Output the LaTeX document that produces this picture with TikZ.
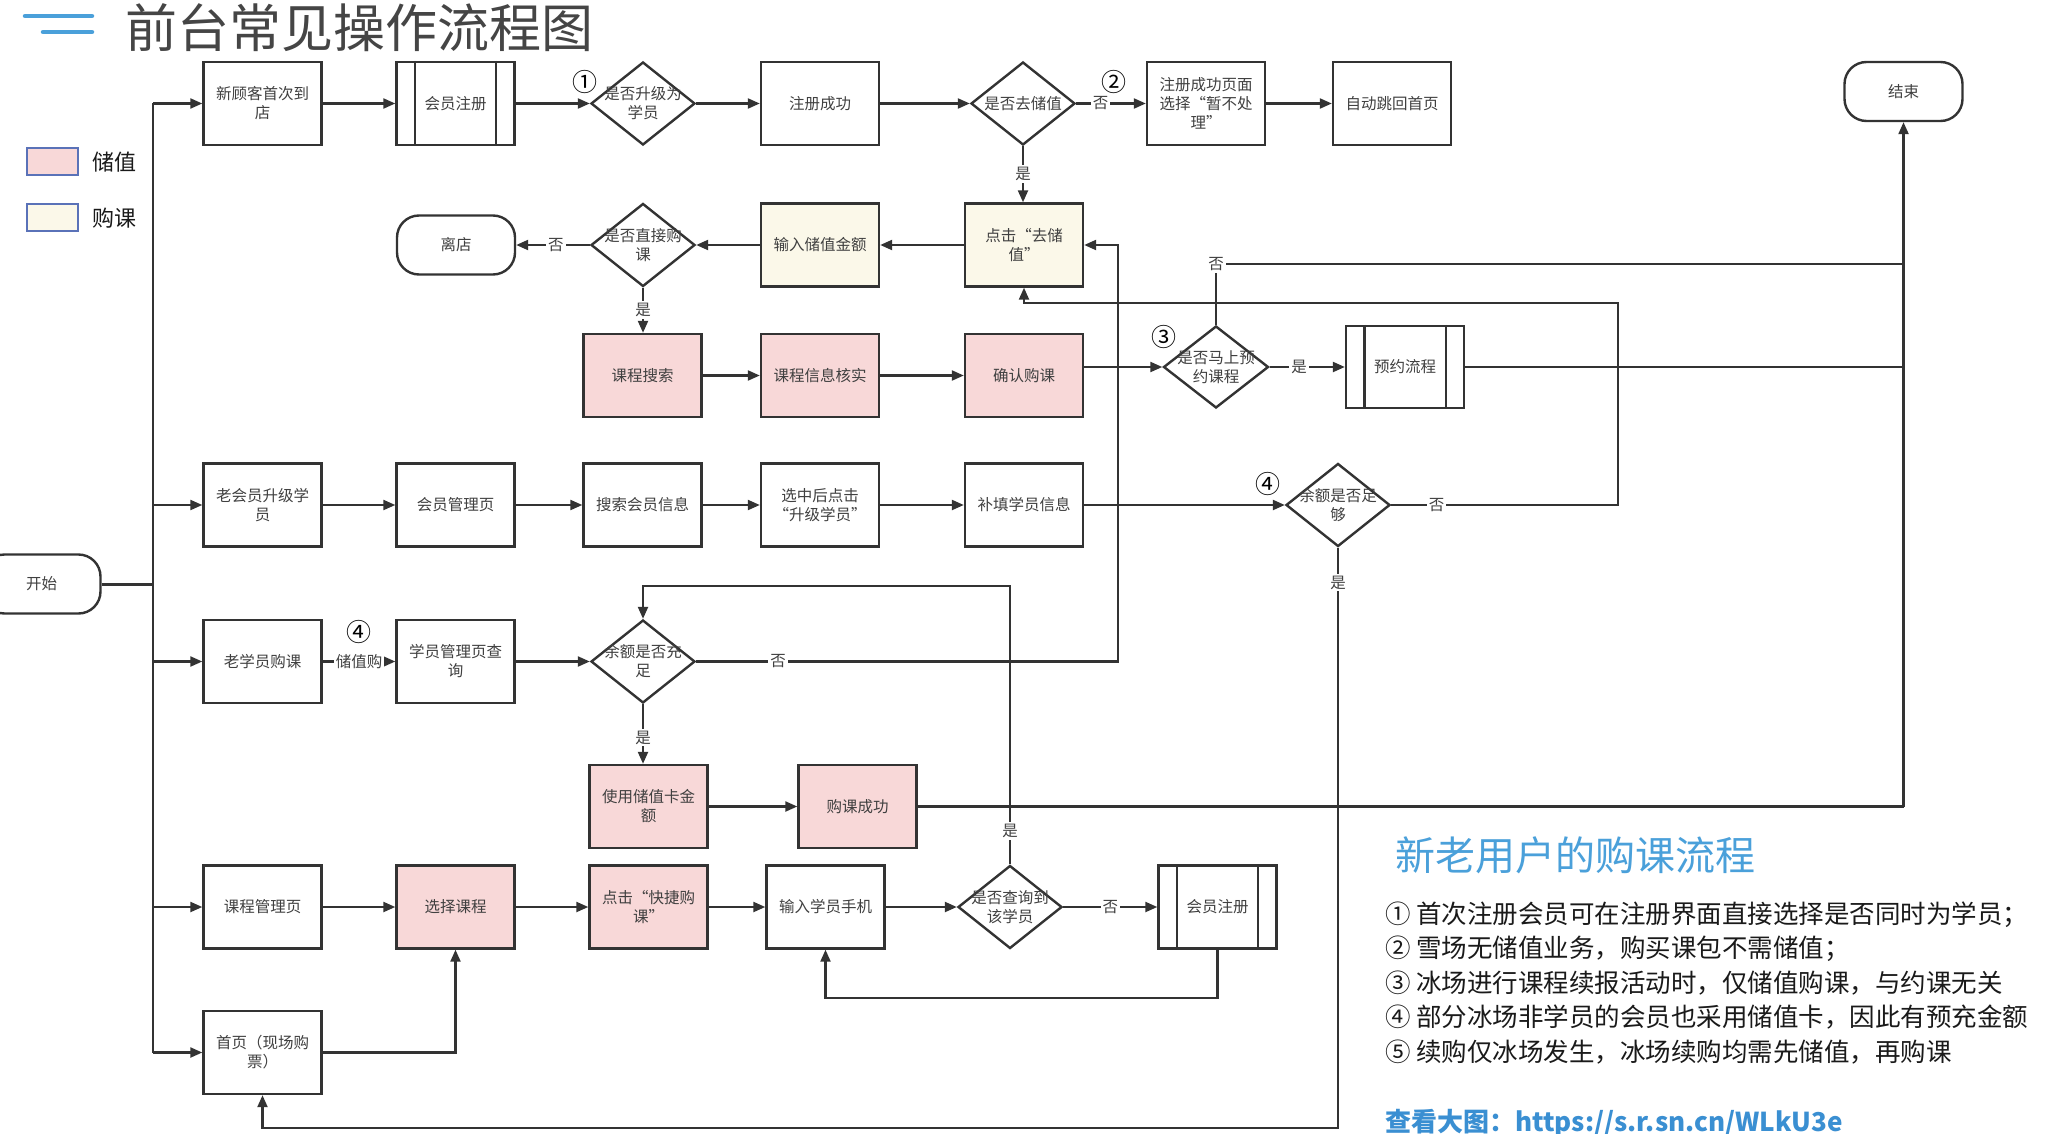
\documentclass[tikz,border=0pt]{standalone}
\usepackage{fontspec}
\setmainfont{Noto Sans CJK SC}
\usetikzlibrary{arrows.meta,shapes.geometric,calc}
\definecolor{pinkf}{HTML}{F8D8D8}
\definecolor{beigef}{HTML}{FBF8E9}
\definecolor{lnc}{HTML}{333333}
\definecolor{txc}{HTML}{404040}
\definecolor{legb}{HTML}{5A72B8}
\definecolor{ttl}{HTML}{454545}
\definecolor{hblue}{HTML}{4AA0DA}
\definecolor{lblue}{HTML}{3A8FD2}
\definecolor{ntx}{HTML}{1A1A1A}
\begin{document}
\begin{tikzpicture}[x=1pt,y=-1pt,
  every node/.style={inner sep=0pt},
  bx/.style={draw=lnc, line width=2.4pt, fill=white, minimum width=118pt, minimum height=83pt, align=center, text=txc, font=\fontsize{15.5}{19}\selectfont},
  pk/.style={bx, fill=pinkf},
  bg/.style={bx, fill=beigef},
  term/.style={bx, rounded corners=22pt, minimum height=59pt},
  dia/.style={draw=lnc, line width=2.4pt, fill=white, shape=diamond, minimum width=104pt, minimum height=83pt},
  dtx/.style={align=center, text=txc, font=\fontsize{15.5}{19}\selectfont},
  conn/.style={draw=lnc, line width=2.2pt},
  arr/.style={conn, -{Triangle[length=12pt,width=10pt]}},
  lbl/.style={fill=white, inner sep=2pt, text=txc, font=\fontsize{15.5}{15.5}\selectfont},
  circ/.style={text=black, font=\fontsize{25}{25}\selectfont},
  legbox/.style={draw=legb, line width=2.5pt, minimum width=51pt, minimum height=27pt},
  legtxt/.style={text=ntx, font=\fontsize{22}{22}\selectfont},
  note/.style={anchor=west, text=ntx, font=\fontsize{25.5}{30}\selectfont},
]
\useasboundingbox (0,0) rectangle (2063,1134);
\clip (0,0) rectangle (2063,1134);
\fill[white] (0,0) rectangle (2063,1134);

% title
\draw[hblue, line width=4.5pt, line cap=round] (25,16) -- (92,16) (43,32) -- (92,32);
\node[anchor=west, text=ttl, font=\fontsize{52}{52}\selectfont] (title) at (125,28) {前台常见操作流程图};

% legend
\node[legbox, fill=pinkf] (lg1) at (52.5,161.5) {};
\node[legtxt] (lgt1) at (114,162) {储值};
\node[legbox, fill=beigef] (lg2) at (52.5,217.5) {};
\node[legtxt] (lgt2) at (114,218) {购课};

% row 1
\node[bx] (n1) at (262.5,103.5) {新顾客首次到\\店};
\node[bx] (reg1) at (455.5,103.5) {会员注册};
\node[dia, label={[dtx]center:{是否升级为\\学员}}] (d1) at (643,103.5) {};
\node[bx] (ok) at (820,103.5) {注册成功};
\node[dia, label={[dtx]center:{是否去储值}}] (d2) at (1023,103.5) {};
\node[bx] (sk) at (1206,103.5) {注册成功页面\\选择“暂不处\\理”};
\node[bx] (home) at (1392,103.5) {自动跳回首页};
\node[term] (endn) at (1903.5,91.5) {结束};

% row 2
\node[term] (leave) at (456,245) {离店};
\node[dia, label={[dtx]center:{是否直接购\\课}}] (d3) at (643,245) {};
\node[bg] (amt) at (820,245) {输入储值金额};
\node[bg] (gostore) at (1024,245) {点击“去储\\值”};

% row 3
\node[pk] (search) at (642.5,375.5) {课程搜索};
\node[pk] (verify) at (820,375.5) {课程信息核实};
\node[pk] (confirm) at (1024,375.5) {确认购课};
\node[dia, minimum width=105pt, minimum height=82pt, label={[dtx]center:{是否马上预\\约课程}}] (d4) at (1216,367) {};
\node[bx, minimum height=82pt] (appt) at (1405,367) {预约流程};

% row 4
\node[bx] (old1) at (262.5,505) {老会员升级学\\员};
\node[bx] (mpage) at (455.5,505) {会员管理页};
\node[bx] (msearch) at (642.5,505) {搜索会员信息};
\node[bx] (sel) at (820,505) {选中后点击\\“升级学员”};
\node[bx] (fill) at (1024,505) {补填学员信息};
\node[dia, label={[dtx]center:{余额是否足\\够}}] (d5) at (1338,505) {};

% start
\node[term] (start) at (41.5,584) {开始};

% row 5
\node[bx] (old2) at (262.5,661.5) {老学员购课};
\node[bx] (spage) at (455.5,661.5) {学员管理页查\\询};
\node[dia, label={[dtx]center:{余额是否充\\足}}] (d6) at (643,661.5) {};

% row 6
\node[pk] (usecard) at (648.5,806.5) {使用储值卡金\\额};
\node[pk] (buyok) at (857.5,806.5) {购课成功};

% row 7
\node[bx] (cmgr) at (262.5,907) {课程管理页};
\node[pk] (choose) at (455.5,907) {选择课程};
\node[pk] (quick) at (648.5,907) {点击“快捷购\\课”};
\node[bx] (phone) at (825.5,907) {输入学员手机};
\node[dia, label={[dtx]center:{是否查询到\\该学员}}] (d7) at (1010,907) {};
\node[bx] (reg2) at (1217.5,907) {会员注册};

% row 8
\node[bx] (homepage) at (262.5,1052.5) {首页（现场购\\票）};

% predefined-process side bars
\foreach \n in {reg1,appt,reg2}
  \draw[draw=lnc, line width=2.4pt] ([xshift=19.5pt]\n.north west) -- ([xshift=19.5pt]\n.south west)
        ([xshift=-19.5pt]\n.north east) -- ([xshift=-19.5pt]\n.south east);

% circled numbers
\node[circ] (c1) at (585,82) {①};
\node[circ] (c2) at (1114,82) {②};
\node[circ] (c3) at (1164,337) {③};
\node[circ] (c4n) at (1268,484) {④};
\node[circ] (c5n) at (359,632) {④};

% helper coordinates
\coordinate (tk) at (153,0);
\coordinate (ej) at (endn.south |- buyok.east);
\coordinate (cn4) at (1216,264);
\coordinate (cn4e) at (1903.5,264);
\coordinate (cn5) at (1618,303);
\coordinate (cn6) at (1118,245);
\coordinate (cn7) at (643,586);
\coordinate (cnb) at (800,1128);
\coordinate (cn8) at (1000,998);

% trunk
\draw[conn, line width=3pt] (start.east) -- (start.east -| tk);
\draw[conn] (n1.west -| tk) -- (homepage.west -| tk);
\foreach \n in {n1,old1,old2,cmgr,homepage}
  \draw[arr] (\n.west -| tk) -- (\n.west);

% row 1 flow
\draw[arr] (n1) -- (reg1);
\draw[arr] (reg1) -- (d1);
\draw[arr] (d1) -- (ok);
\draw[arr] (ok) -- (d2);
\draw[arr] (d2.east) -- node[lbl, pos=0.35] {否} (sk.west);
\draw[arr] (sk) -- (home);
\draw[arr] (d2.south) -- node[lbl] {是} (d2.south |- gostore.north);

% row 2 flow
\draw[arr] (gostore) -- (amt);
\draw[arr] (amt) -- (d3);
\draw[arr] (d3.west) -- node[lbl, pos=0.46] {否} (leave.east);
\draw[arr] (d3.south) -- node[lbl] {是} (d3.south |- search.north);

% row 3 flow
\draw[arr] (search) -- (verify);
\draw[arr] (verify) -- (confirm);
\draw[arr] (confirm.east |- d4.west) -- (d4.west);
\draw[arr] (d4.east) -- node[lbl, pos=0.39] {是} (appt.west);
\draw[conn] (appt.east) -- (appt.east -| endn.south);
\draw[conn] (d4.north) -- (cn4) -- (cn4e);
\node[lbl] (no4) at (cn4) {否};

% end line
\draw[conn] (buyok.east) -- (ej);
\draw[arr] (ej) -- (endn.south);

% row 4 flow
\draw[arr] (old1) -- (mpage);
\draw[arr] (mpage) -- (msearch);
\draw[arr] (msearch) -- (sel);
\draw[arr] (sel) -- (fill);
\draw[arr] (fill) -- (d5);
\draw[arr] (d5.east) -| node[lbl, pos=0.1] {否} (cn5) -| (gostore.south);
\draw[arr] (d5.south) |- node[lbl, pos=0.03] {是} (cnb) -| (homepage.south);

% row 5 flow
\draw[arr] (old2) -- node[lbl] {储值购} (spage);
\draw[arr] (spage) -- (d6);
\draw[arr] (d6.east) -| node[lbl, pos=0.097] {否} (cn6) -- (gostore.east);
\draw[arr] (d6.south) -- node[lbl, pos=0.56] {是} (d6.south |- usecard.north);

% row 6
\draw[arr] (usecard) -- (buyok);

% row 7 flow
\draw[arr] (cmgr) -- (choose);
\draw[arr] (choose) -- (quick);
\draw[arr] (quick) -- (phone);
\draw[arr] (phone) -- (d7);
\draw[arr] (d7.east) -- node[lbl] {否} (reg2.west);
\draw[arr] (reg2.south) |- (cn8) -| (phone.south);
\draw[arr] (d7.north) |- node[lbl, pos=0.06] {是} (cn7) -- (d6.north);

% homepage -> choose
\draw[arr] (homepage.east) -| (choose.south);

% notes
\node[anchor=west, text=hblue, font=\fontsize{40}{40}\selectfont] (head) at (1395,855) {新老用户的购课流程};
\node[note] (nt1) at (1385,915) {① 首次注册会员可在注册界面直接选择是否同时为学员；};
\node[note] (nt2) at (1385,949) {② 雪场无储值业务，购买课包不需储值；};
\node[note] (nt3) at (1385,983) {③ 冰场进行课程续报活动时，仅储值购课，与约课无关};
\node[note] (nt4) at (1385,1017.5) {④ 部分冰场非学员的会员也采用储值卡，因此有预充金额};
\node[note] (nt5) at (1385,1052) {⑤ 续购仅冰场发生，冰场续购均需先储值，再购课};
\node[anchor=west, text=lblue, font=\bfseries\fontsize{26}{26}\selectfont] (link) at (1385,1123) {查看大图：https://s.r.sn.cn/WLkU3e};
\end{tikzpicture}
\end{document}
